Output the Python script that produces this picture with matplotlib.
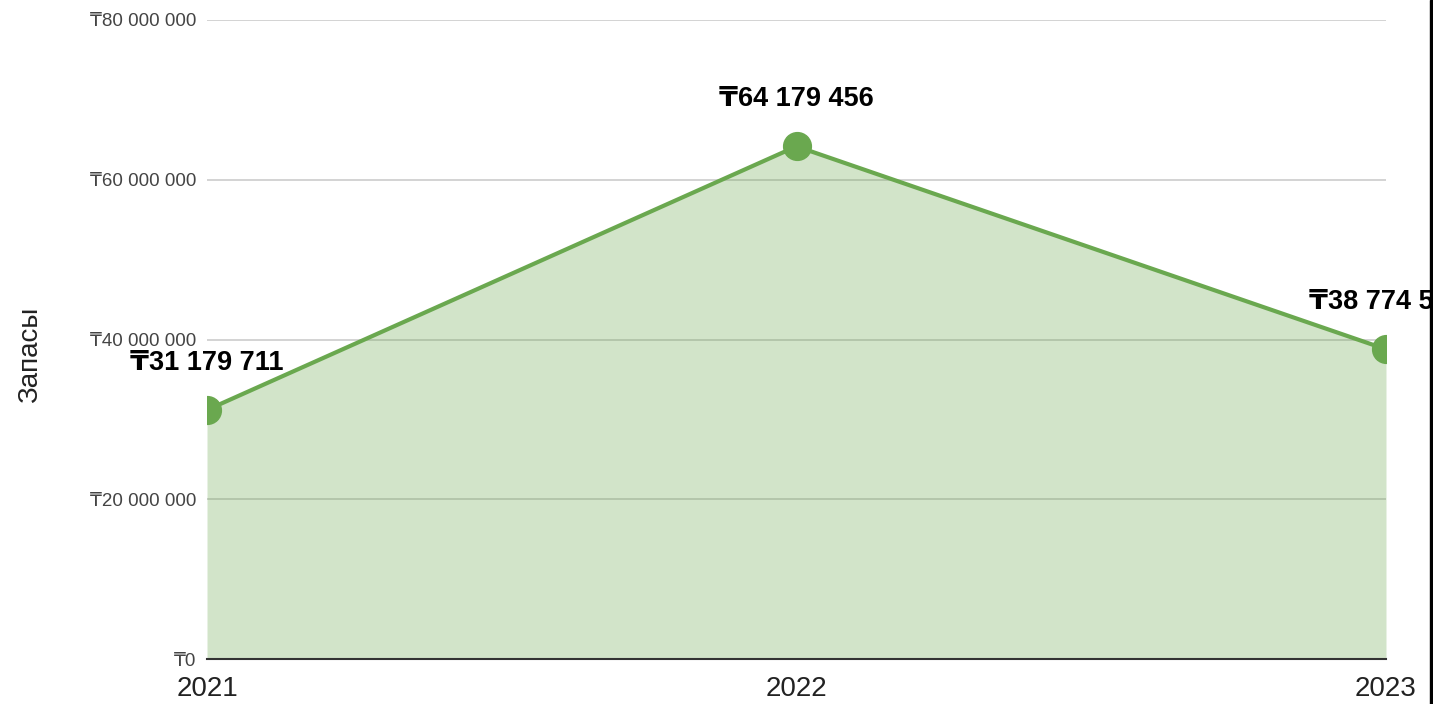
import matplotlib
matplotlib.use('Agg')
import matplotlib.pyplot as plt
from matplotlib.patches import Rectangle

years = ['2021', '2022', '2023']
stocks = [31179711, 64179456, 38774500]
shown_labels = ['₸31 179 711', '₸64 179 456', '₸38 774 500']
y_ticks = [0, 20000000, 40000000, 60000000, 80000000]

plt.rcParams['font.family'] = ['Liberation Sans', 'DejaVu Sans']

green = '#6aa84f'
W, H = 1433, 704
fig = plt.figure(figsize=(W / 100, H / 100), dpi=100)
ax = fig.add_axes([207 / W, 1 - 659 / H, (1386 - 207) / W, (659 - 20) / H])

x = list(range(len(years)))
ax.fill_between(x, stocks, 0, color=green, alpha=0.3, linewidth=0, zorder=2)
ax.plot(x, stocks, color=green, linewidth=3, marker='o', markersize=20, zorder=3)

ax.set_xlim(0, len(years) - 1)
ax.set_ylim(0, 80000000)
ax.set_yticks(y_ticks)
ax.set_yticklabels(['₸' + f'{v:,}'.replace(',', ' ') for v in y_ticks],
                   fontsize=13.5, color='#444444')
ax.set_xticks(x)
ax.set_xticklabels(years, fontsize=20, color='#222222')
ax.tick_params(axis='both', length=0)
ax.tick_params(axis='y', pad=8)
ax.tick_params(axis='x', pad=12)
ax.grid(axis='y', color='#cccccc', linewidth=1.2, zorder=1)
ax.set_axisbelow(True)
for s in ['top', 'right', 'left']:
    ax.spines[s].set_visible(False)
ax.spines['bottom'].set_color('#333333')
ax.spines['bottom'].set_linewidth(1.5)
ax.spines['bottom'].set_zorder(4)

for xi, v, lab in zip(x, stocks, shown_labels):
    ax.annotate(lab, (xi, v), xytext=(0, 34), textcoords='offset points',
                ha='center', va='center', fontsize=19.5, fontweight='bold',
                color='black', annotation_clip=False, zorder=5)

fig.text(30 / W, 1 - 355 / H, 'Запасы', rotation=90, ha='center', va='center',
         fontsize=20, color='#222222')

fig.add_artist(Rectangle((1430 / W, 0), 3 / W, 1, transform=fig.transFigure,
                         color='black', zorder=10))

fig.savefig('out.png', dpi=100)
